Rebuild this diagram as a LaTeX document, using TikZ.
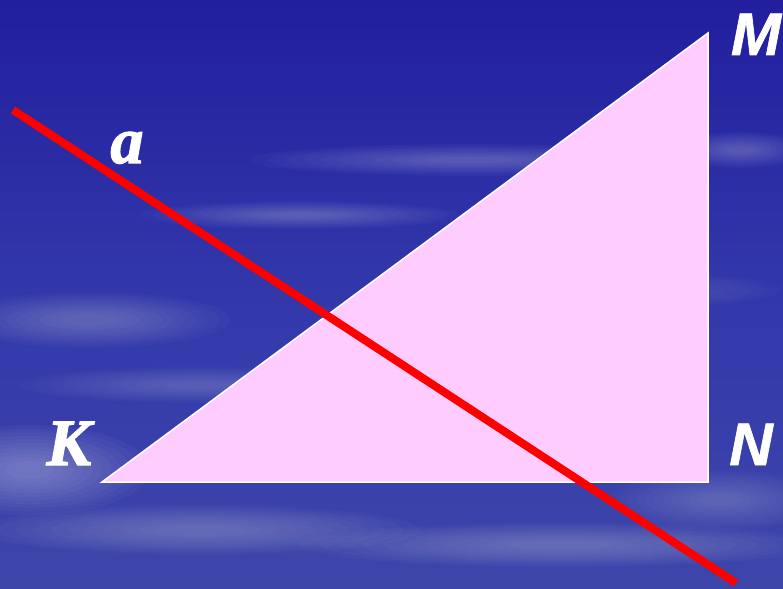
\documentclass[tikz,border=0pt]{standalone}
\usepackage{fontspec}
\setmainfont{Liberation Serif}
\newfontfamily\serfont[FakeBold=2]{Liberation Serif}
\newfontfamily\sansf[FakeBold=1.2]{Liberation Sans}
\definecolor{bgtop}{RGB}{34,30,158}
\definecolor{bgmid}{RGB}{50,56,170}
\definecolor{bgbot}{RGB}{62,70,170}
\definecolor{pinkfill}{RGB}{255,204,255}
\definecolor{redline}{RGB}{255,0,0}
\newcommand{\softcloud}[5]{%
  \foreach \s in {1,0.92,0.84,0.76,0.68,0.6,0.52,0.44,0.36,0.28,0.2}{%
    \fill[white,opacity=#5] (#1,#2) ellipse ({#3*\s} and {#4*\s});}}
\tikzset{
  serlabel/.style={text=white, font=\fontsize{66}{66}\serfont\bfseries\itshape, anchor=base, inner sep=0pt},
  sanlabel/.style={text=white, font=\fontsize{60}{60}\sansf\bfseries\itshape, anchor=base, inner sep=0pt},
  triside/.style={draw=white, line width=1.5pt, fill=pinkfill, line join=miter},
  redstroke/.style={draw=redline, line width=8pt}
}
\begin{document}
\begin{tikzpicture}[x=1pt,y=-1pt]
\useasboundingbox (0,0) rectangle (783,588);
\shade[top color=bgtop, bottom color=bgbot, middle color=bgmid] (0,0) rectangle (783,588);
\begin{scope}
\clip (0,0) rectangle (783,588);
\softcloud{470}{160}{220}{16}{0.025}
\softcloud{740}{150}{70}{18}{0.025}
\softcloud{300}{215}{160}{14}{0.025}
\softcloud{90}{320}{140}{28}{0.025}
\softcloud{200}{385}{180}{18}{0.02}
\softcloud{30}{470}{120}{45}{0.03}
\softcloud{200}{530}{220}{25}{0.025}
\softcloud{560}{545}{260}{22}{0.025}
\softcloud{720}{500}{110}{30}{0.02}
\softcloud{600}{290}{180}{20}{0.015}
\end{scope}
\coordinate (K) at (102,482);
\coordinate (M) at (708,33);
\coordinate (N) at (708,482);
\coordinate (la) at (13,110);
\coordinate (lb) at (736,583);
\path[triside] (K) -- (M) -- (N) -- cycle;
\draw[redstroke] (la) -- (lb);
\node[serlabel] (tK) at (69,465) {К};
\node[serlabel] (ta) at (127,163) {a};
\node[sanlabel] (tM) at (756,55) {M};
\node[sanlabel] (tN) at (751,465) {N};
\end{tikzpicture}
\end{document}
